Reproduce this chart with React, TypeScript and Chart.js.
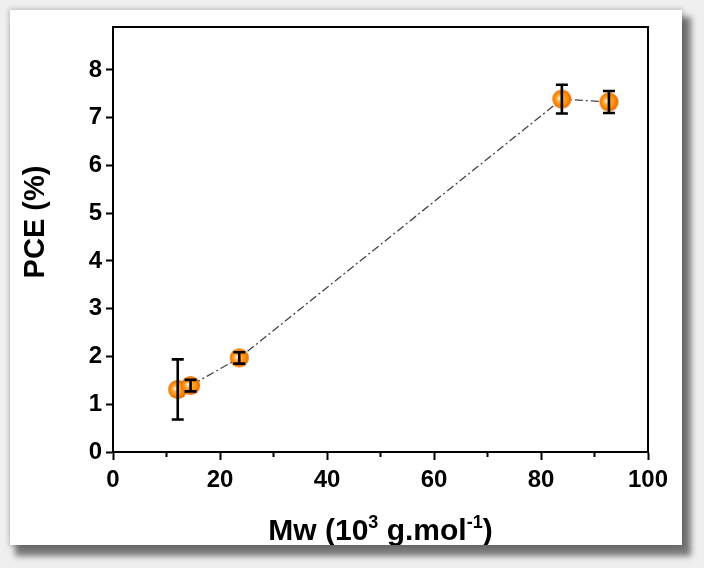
import React, { useEffect, useRef } from "react";
import { Chart, registerables } from "chart.js";

Chart.register(...registerables);

// Molecular weight (10^3 g/mol) vs. power conversion efficiency
const mw = [12.1, 14.5, 23.6, 83.9, 92.7];
const pce = [1.31, 1.39, 1.97, 7.39, 7.33];
const pceErr = [0.63, 0.12, 0.12, 0.3, 0.23];
const xMinorTicks = [10, 30, 50, 70, 90];

const FONT = "'Liberation Sans', Arial, sans-serif";

// Glossy orange sphere used as the point marker
function makeBall(r: number): HTMLCanvasElement {
  const s = r * 2 + 2;
  const c = document.createElement("canvas");
  c.width = s;
  c.height = s;
  const ctx = c.getContext("2d")!;
  const cx = s / 2;
  const cy = s / 2;
  const g = ctx.createRadialGradient(cx - r * 0.3, cy - r * 0.1, r * 0.05, cx, cy, r);
  g.addColorStop(0, "#fff4e4");
  g.addColorStop(0.25, "#ffb04a");
  g.addColorStop(0.7, "#ff8a05");
  g.addColorStop(1, "#dc6800");
  ctx.fillStyle = g;
  ctx.beginPath();
  ctx.arc(cx, cy, r, 0, Math.PI * 2);
  ctx.fill();
  return c;
}

const errorBars = {
  id: "errorBars",
  afterDatasetsDraw(chart: any) {
    const { ctx, scales } = chart;
    const x = scales.x;
    const y = scales.y;
    ctx.save();
    ctx.strokeStyle = "#000";
    ctx.lineWidth = 2.6;
    mw.forEach((m, i) => {
      const px = x.getPixelForValue(m);
      const top = y.getPixelForValue(pce[i] + pceErr[i]);
      const bot = y.getPixelForValue(pce[i] - pceErr[i]);
      ctx.beginPath();
      ctx.moveTo(px, top);
      ctx.lineTo(px, bot);
      ctx.moveTo(px - 6, top);
      ctx.lineTo(px + 6, top);
      ctx.moveTo(px - 6, bot);
      ctx.lineTo(px + 6, bot);
      ctx.stroke();
    });
    ctx.restore();
  },
};

// Closed frame, minor x ticks and both axis titles
const frame = {
  id: "frame",
  afterDraw(chart: any) {
    const { ctx, chartArea, scales } = chart;
    const { left, right, top, bottom } = chartArea;
    ctx.save();
    ctx.strokeStyle = "#000";
    ctx.lineWidth = 2;
    ctx.beginPath();
    ctx.moveTo(left, top);
    ctx.lineTo(right, top);
    ctx.lineTo(right, bottom);
    ctx.stroke();

    ctx.beginPath();
    xMinorTicks.forEach((v) => {
      const px = scales.x.getPixelForValue(v);
      ctx.moveTo(px, bottom);
      ctx.lineTo(px, bottom + 5);
    });
    ctx.stroke();

    ctx.fillStyle = "#000";

    // y-axis title
    ctx.save();
    ctx.translate(36, 222);
    ctx.rotate(-Math.PI / 2);
    ctx.font = `bold 29px ${FONT}`;
    ctx.textAlign = "center";
    ctx.textBaseline = "middle";
    ctx.fillText("PCE (%)", 0, 0);
    ctx.restore();

    // x-axis title with superscripts
    const parts: [string, number, number][] = [
      ["Mw (10", 30, 0],
      ["3", 18, -12],
      [" g.mol", 30, 0],
      ["-1", 18, -12],
      [")", 30, 0],
    ];
    let total = 0;
    const widths = parts.map(([t, size]) => {
      ctx.font = `bold ${size}px ${FONT}`;
      const w = ctx.measureText(t).width;
      total += w;
      return w;
    });
    let cx = (left + right) / 2 - total / 2;
    const baseY = 540;
    ctx.textBaseline = "alphabetic";
    ctx.textAlign = "left";
    parts.forEach(([t, size, dy], i) => {
      ctx.font = `bold ${size}px ${FONT}`;
      ctx.fillText(t, cx, baseY + dy);
      cx += widths[i];
    });
    ctx.restore();
  },
};

export default function App() {
  const ref = useRef<HTMLCanvasElement | null>(null);

  useEffect(() => {
    if (!ref.current) return;
    const ball = makeBall(9.5);
    const chart = new Chart(ref.current, {
      type: "scatter",
      data: {
        datasets: [
          {
            data: mw.map((m, i) => ({ x: m, y: pce[i] })),
            showLine: true,
            borderColor: "#444",
            borderWidth: 1.3,
            borderDash: [8, 3, 2, 3],
            pointStyle: ball as any,
            pointRadius: 9.5,
            tension: 0,
          },
        ],
      },
      options: {
        animation: false,
        responsive: false,
        layout: { padding: { top: 27, right: 56, left: 0, bottom: 0 } },
        plugins: { legend: { display: false }, tooltip: { enabled: false } },
        scales: {
          x: {
            type: "linear",
            min: 0,
            max: 100,
            afterFit: (s: any) => {
              s.height = 116;
            },
            ticks: {
              stepSize: 20,
              color: "#000",
              padding: 6,
              font: { family: FONT, size: 24, weight: "bold" },
            },
            grid: { drawOnChartArea: false, tickLength: 8, tickWidth: 2, tickColor: "#000" },
            border: { color: "#000", width: 2 },
          },
          y: {
            type: "linear",
            min: 0,
            max: 8.9,
            afterFit: (s: any) => {
              s.width = 113;
            },
            ticks: {
              stepSize: 1,
              includeBounds: false,
              color: "#000",
              padding: 4,
              font: { family: FONT, size: 24, weight: "bold" },
            },
            grid: { drawOnChartArea: false, tickLength: 7, tickWidth: 2, tickColor: "#000" },
            border: { color: "#000", width: 2 },
          },
        },
      },
      plugins: [errorBars, frame],
    });
    return () => chart.destroy();
  }, []);

  return (
    <div
      style={{
        position: "absolute",
        left: 0,
        top: 0,
        width: 704,
        height: 568,
        background: "#efefef",
        overflow: "hidden",
      }}
    >
      <div
        style={{
          position: "absolute",
          left: 10,
          top: 10,
          width: 672,
          height: 535,
          background: "#fff",
          overflow: "hidden",
          boxShadow: "0 0 5px 1px rgba(0,0,0,0.22), 7px 9px 6px 2px rgba(0,0,0,0.5)",
        }}
      >
        <canvas
          ref={ref}
          width={704}
          height={568}
          style={{ position: "absolute", left: -10, top: -10, width: 704, height: 568 }}
        />
      </div>
    </div>
  );
}
